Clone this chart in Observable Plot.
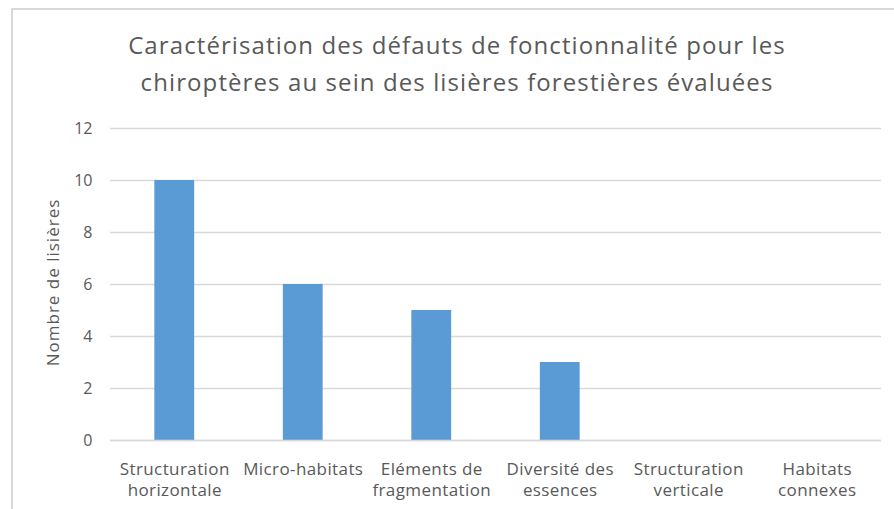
<!DOCTYPE html>
<html><head><meta charset="utf-8">
<script src="https://cdn.jsdelivr.net/npm/d3@7"></script>
<script src="https://cdn.jsdelivr.net/npm/@observablehq/plot@0.6"></script>
<style>
body{margin:0;background:#fff;}
#wrap{position:relative;width:894px;height:509px;overflow:hidden;background:#fff;font-family:"Open Sans",sans-serif;}
#frame{position:absolute;left:11px;top:8px;width:900px;height:520px;border-top:2px solid #d9d9d9;border-left:2px solid #d9d9d9;}
#title{position:absolute;left:0;width:914px;top:26px;text-align:center;font-size:24px;line-height:37px;letter-spacing:1.1px;color:#595959;}
#chart{position:absolute;left:0;top:110px;}
#chart .yl text{letter-spacing:1px;}
#chart .xl text{letter-spacing:0.4px;}
</style></head>
<body>
<div id="wrap"><div id="frame"></div>
<div id="title">Caractérisation des défauts de fonctionnalité pour les<br>chiroptères au sein des lisières forestières évaluées</div>
<div id="chart"></div></div>
<script>
const categories = ["Structuration horizontale","Micro-habitats","Eléments de fragmentation","Diversité des essences","Structuration verticale","Habitats connexes"];
const labels = ["Structuration\nhorizontale","Micro-habitats","Eléments de\nfragmentation","Diversité des\nessences","Structuration\nverticale","Habitats\nconnexes"];
const values = [10, 6, 5, 3, 0, 0];
const yTicks = [0, 2, 4, 6, 8, 10, 12];
const yLabel = "Nombre de lisières";

const data = categories.map((c, i) => ({c, v: values[i]}));
const labelOf = new Map(categories.map((c, i) => [c, labels[i]]));

const plot = Plot.plot({
  width: 894, height: 399,
  marginLeft: 110, marginRight: 13, marginTop: 18, marginBottom: 69,
  style: {fontFamily: "'Open Sans', sans-serif", fontSize: "16px", color: "#595959", background: "transparent"},
  x: {domain: categories, paddingInner: 0.69, paddingOuter: 0.345, align: 0.5, round: false},
  y: {domain: [0, 12]},
  marks: [
    Plot.gridY(yTicks, {stroke: "#d9d9d9", strokeOpacity: 1, strokeWidth: 1.5}),
    Plot.barY(data, {x: "c", y: "v", fill: "#5b9bd5"}),
    Plot.ruleY([0], {stroke: "#d9d9d9", strokeWidth: 1.5}),
    Plot.axisY(yTicks, {tickSize: 0, tickPadding: 18, label: null, fill: "#595959", fontSize: 16}),
    Plot.axisX({tickSize: 0, tickPadding: 20, label: null, tickFormat: d => labelOf.get(d), lineHeight: 1.235, fill: "#595959", fontSize: 17, className: "xl"}),
    Plot.text([yLabel], {frameAnchor: "left", textAnchor: "middle", dx: -57, dy: -2, rotate: -90, fill: "#595959", fontSize: 17, className: "yl"})
  ]
});
document.getElementById("chart").appendChild(plot);
</script>
</body></html>
